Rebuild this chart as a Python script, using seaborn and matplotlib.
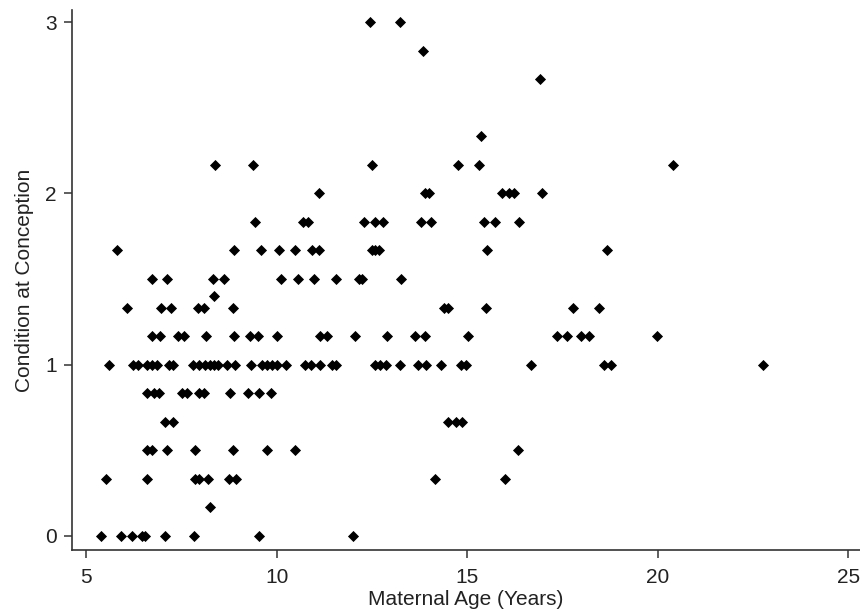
import numpy as np
import pandas as pd
import matplotlib
matplotlib.use("Agg")
import matplotlib.pyplot as plt
import seaborn as sns
from matplotlib import font_manager

# maternal ages (years), grouped by condition score
age_c000 = [5.39, 5.91, 6.20, 6.46, 6.55, 7.07, 7.82, 9.55, 12.00]
age_c017 = [8.24]
age_c033 = [5.52, 6.61, 7.86, 7.97, 8.21, 8.76, 8.94, 14.16, 15.99]
age_c050 = [6.61, 6.72, 7.12, 7.86, 8.85, 9.76, 10.49, 16.34]
age_c067 = [7.07, 7.28, 14.51, 14.70, 14.87]
age_c083 = [6.61, 6.78, 6.92, 7.51, 7.66, 7.97, 8.10, 8.78, 9.26, 9.55, 9.85]
age_c100 = [5.60, 6.23, 6.36, 6.60, 6.73, 6.86, 7.18, 7.28, 7.81, 7.97,
            8.12, 8.25, 8.36, 8.46, 8.70, 8.91, 9.33, 9.62, 9.75, 9.88,
            10.01, 10.25, 10.75, 10.91, 11.14, 11.46, 11.56, 12.59, 12.72,
            12.87, 13.24, 13.71, 13.92, 14.32, 14.84, 14.97, 16.68, 18.60,
            18.78, 22.77]
age_c117 = [6.72, 6.94, 7.40, 7.57, 8.15, 8.88, 9.30, 9.52, 10.02, 11.14,
            11.32, 12.06, 12.89, 13.63, 13.90, 15.01, 17.36, 17.61, 17.99,
            18.21, 19.98]
age_c133 = [6.07, 6.96, 7.23, 7.95, 8.10, 8.85, 14.38, 14.51, 15.50, 17.77,
            18.46]
age_c140 = [8.37]
age_c150 = [6.72, 7.13, 8.34, 8.62, 10.12, 10.55, 10.98, 11.56, 12.15,
            12.24, 13.26]
age_c167 = [5.81, 8.88, 9.59, 10.07, 10.49, 10.94, 11.10, 12.50, 12.59,
            12.70, 15.52, 18.67]
age_c183 = [9.44, 10.68, 10.83, 12.30, 12.59, 12.80, 13.79, 14.06, 15.43,
            15.72, 16.37]
age_c200 = [11.10, 13.90, 14.01, 15.91, 16.11, 16.24, 16.96]
age_c217 = [8.39, 9.39, 12.50, 14.75, 15.30, 20.41]
age_c233 = [15.36]
age_c267 = [16.92]
age_c283 = [13.85]
age_c300 = [12.45, 13.24]

condition_levels = [0.0, 0.167, 0.333, 0.5, 0.667, 0.833, 1.0, 1.167, 1.333,
                    1.4, 1.5, 1.667, 1.833, 2.0, 2.167, 2.333, 2.667, 2.833,
                    3.0]
age_groups = [age_c000, age_c017, age_c033, age_c050, age_c067, age_c083,
              age_c100, age_c117, age_c133, age_c140, age_c150, age_c167,
              age_c183, age_c200, age_c217, age_c233, age_c267, age_c283,
              age_c300]

x_ticks = [5, 10, 15, 20, 25]
y_ticks = [0, 1, 2, 3]

rows = []
for level, ages in zip(condition_levels, age_groups):
    for a in ages:
        rows.append({"age": a, "condition": level})
df = pd.DataFrame(rows)

# narrow font if it is there, plain one otherwise
names = {f.name for f in font_manager.fontManager.ttflist}
narrow = "Liberation Sans Narrow" in names
print("narrow font:", narrow)
fsize = 18 if narrow else 15

sns.set_style("ticks")
plt.rcParams["font.family"] = ["Liberation Sans Narrow" if narrow else "Liberation Sans",
                               "DejaVu Sans"]

fig = plt.figure(figsize=(8.6, 6.11), dpi=100)
ax = fig.add_axes([0.0837, 0.0998, 0.9163, 0.8838])

sns.scatterplot(data=df, x="age", y="condition", marker="D", color="black",
                s=32, linewidth=0, ax=ax, legend=False)

ax.set_xlim(4.63, 25.31)
ax.set_ylim(-0.082, 3.07)
ax.set_xticks(x_ticks)
ax.set_yticks(y_ticks)

for side in ["top", "right"]:
    ax.spines[side].set_visible(False)
for side in ["left", "bottom"]:
    ax.spines[side].set_linewidth(1.2)
    ax.spines[side].set_color("#333333")

ax.tick_params(axis="both", direction="out", length=6, width=1.1,
               color="#333333", labelsize=fsize, labelcolor="#222222")
ax.tick_params(axis="x", pad=7)
ax.tick_params(axis="y", pad=5)

ax.set_xlabel("Maternal Age (Years)", fontsize=fsize, color="#222222",
              labelpad=2)
ax.set_ylabel("Condition at Conception", fontsize=fsize, color="#222222",
              labelpad=8)

fig.savefig("out.png", dpi=100)
